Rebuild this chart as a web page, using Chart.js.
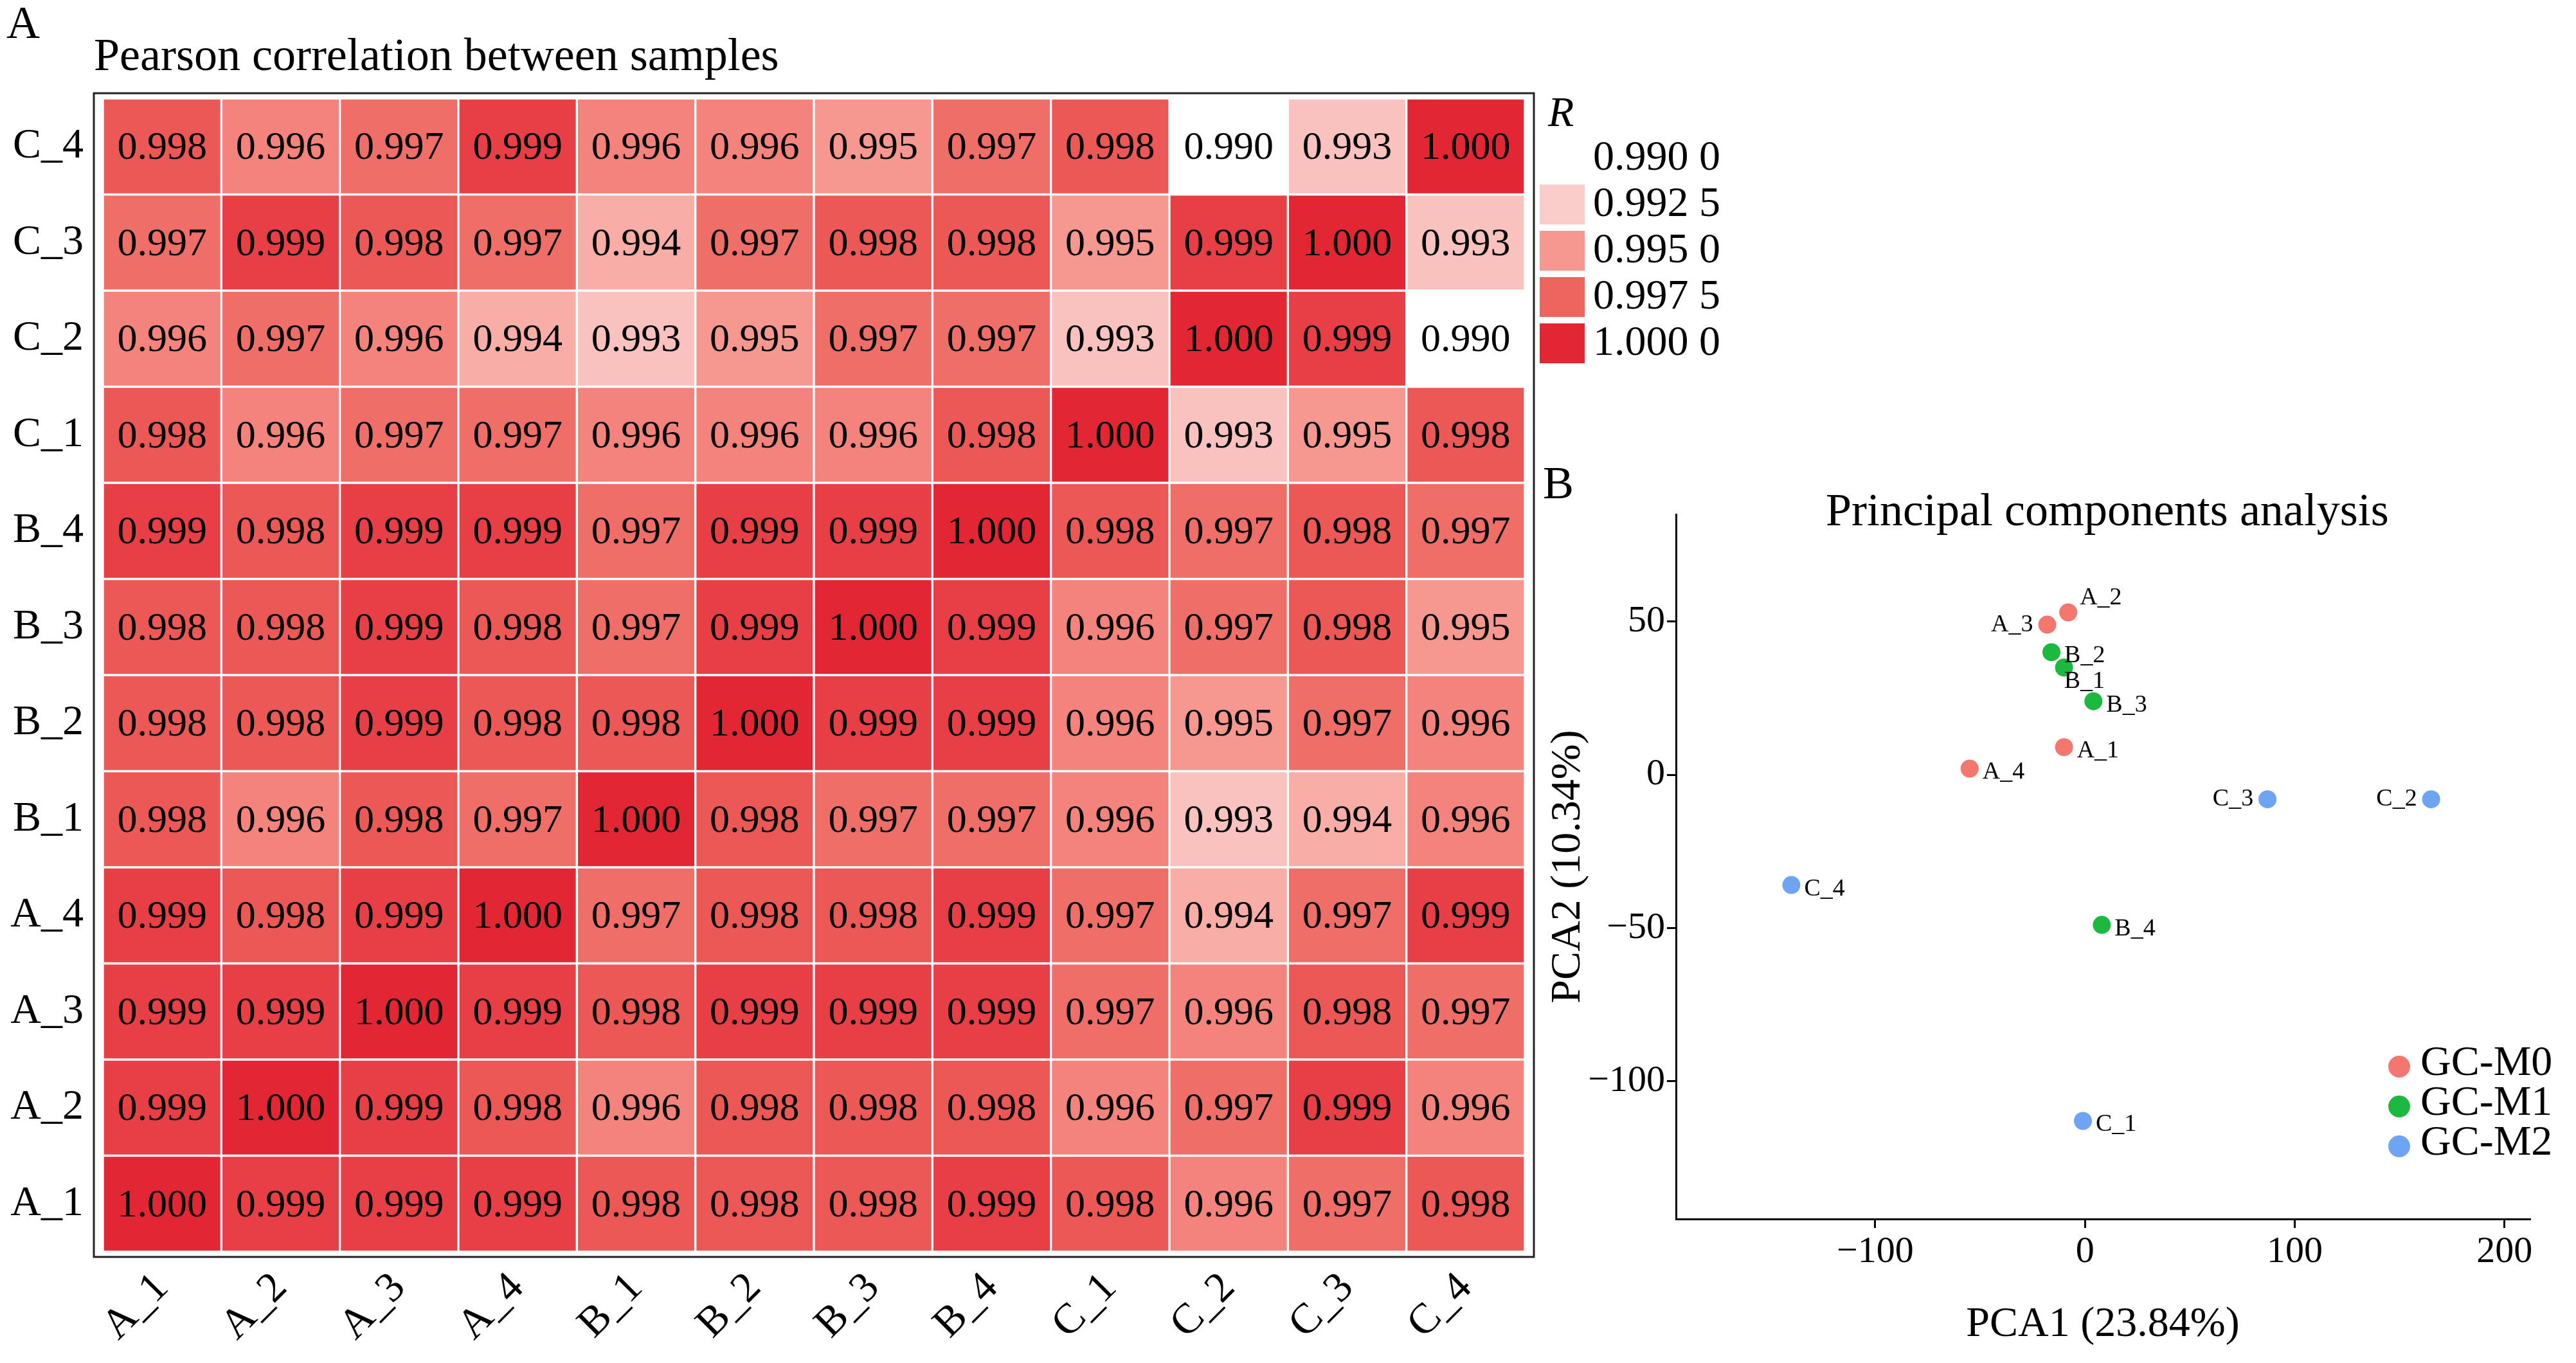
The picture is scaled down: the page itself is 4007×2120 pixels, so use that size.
<!DOCTYPE html>
<html>
<head>
<meta charset="utf-8">
<script src="https://cdn.jsdelivr.net/npm/chart.js@4"></script>
<style>
  body { margin: 0; width: 4007px; height: 2120px; background: #fff; position: relative; font-family: "Liberation Serif", serif; overflow: hidden; }
  .abs { position: absolute; }
  .lbl { font-size: 72px; }
  .legbox { position: absolute; width: 70px; height: 62px; }
  .legtxt { position: absolute; font-size: 66px; }
</style>
</head>
<body>
<div class="abs lbl" style="left:10px;top:-6px;">A</div>
<div class="abs lbl" style="left:146px;top:44px;">Pearson correlation between samples</div>
<div class="abs lbl" style="left:2400px;top:710px;">B</div>
<div class="abs lbl" style="left:2840px;top:752px;">Principal components analysis</div>
<div id="rleg"></div>
<div id="pleg"></div>
<canvas id="heat" class="abs" width="2400" height="2120" style="left:0;top:0;width:2400px;height:2120px;"></canvas>
<canvas id="pca" class="abs" width="1607" height="1370" style="left:2400px;top:750px;width:1607px;height:1370px;"></canvas>
<script>
// Sample names
const samples = ['A_1', 'A_2', 'A_3', 'A_4', 'B_1', 'B_2', 'B_3', 'B_4', 'C_1', 'C_2', 'C_3', 'C_4'];

// Correlation rows, bottom (A_1) to top (C_4), columns A_1..C_4
const rowA1 = [1.000, 0.999, 0.999, 0.999, 0.998, 0.998, 0.998, 0.999, 0.998, 0.996, 0.997, 0.998];
const rowA2 = [0.999, 1.000, 0.999, 0.998, 0.996, 0.998, 0.998, 0.998, 0.996, 0.997, 0.999, 0.996];
const rowA3 = [0.999, 0.999, 1.000, 0.999, 0.998, 0.999, 0.999, 0.999, 0.997, 0.996, 0.998, 0.997];
const rowA4 = [0.999, 0.998, 0.999, 1.000, 0.997, 0.998, 0.998, 0.999, 0.997, 0.994, 0.997, 0.999];
const rowB1 = [0.998, 0.996, 0.998, 0.997, 1.000, 0.998, 0.997, 0.997, 0.996, 0.993, 0.994, 0.996];
const rowB2 = [0.998, 0.998, 0.999, 0.998, 0.998, 1.000, 0.999, 0.999, 0.996, 0.995, 0.997, 0.996];
const rowB3 = [0.998, 0.998, 0.999, 0.998, 0.997, 0.999, 1.000, 0.999, 0.996, 0.997, 0.998, 0.995];
const rowB4 = [0.999, 0.998, 0.999, 0.999, 0.997, 0.999, 0.999, 1.000, 0.998, 0.997, 0.998, 0.997];
const rowC1 = [0.998, 0.996, 0.997, 0.997, 0.996, 0.996, 0.996, 0.998, 1.000, 0.993, 0.995, 0.998];
const rowC2 = [0.996, 0.997, 0.996, 0.994, 0.993, 0.995, 0.997, 0.997, 0.993, 1.000, 0.999, 0.990];
const rowC3 = [0.997, 0.999, 0.998, 0.997, 0.994, 0.997, 0.998, 0.998, 0.995, 0.999, 1.000, 0.993];
const rowC4 = [0.998, 0.996, 0.997, 0.999, 0.996, 0.996, 0.995, 0.997, 0.998, 0.990, 0.993, 1.000];
const rows = [rowA1, rowA2, rowA3, rowA4, rowB1, rowB2, rowB3, rowB4, rowC1, rowC2, rowC3, rowC4];

// Colour scale stops
const scaleTicks = [0.990, 0.9925, 0.995, 0.9975, 1.000];
const scaleLabels = ['0.990 0', '0.992 5', '0.995 0', '0.997 5', '1.000 0'];
const scaleColors = [[255, 255, 255], [250, 205, 203], [246, 152, 143], [238, 100, 94], [227, 38, 52]];

// PCA points
const m0Names = ['A_1', 'A_2', 'A_3', 'A_4'];
const m0X = [-10, -8, -18, -55];
const m0Y = [9, 53, 49, 2];
const m1Names = ['B_1', 'B_2', 'B_3', 'B_4'];
const m1X = [-10, -16, 4, 8];
const m1Y = [35, 40, 24, -49];
const m2Names = ['C_1', 'C_2', 'C_3', 'C_4'];
const m2X = [-1, 165, 87, -140];
const m2Y = [-113, -8, -8, -36];
const groups = ['GC-M0', 'GC-M1', 'GC-M2'];
const groupColors = ['#F4776F', '#1DB840', '#6FA4F2'];

function colorFor(v) {
  for (let i = 0; i < scaleTicks.length - 1; i++) {
    if (v <= scaleTicks[i + 1] + 1e-9) {
      const t = Math.max(0, (v - scaleTicks[i]) / (scaleTicks[i + 1] - scaleTicks[i]));
      const a = scaleColors[i], b = scaleColors[i + 1];
      return `rgb(${a.map((c, k) => Math.round(c + (b[k] - c) * t)).join(',')})`;
    }
  }
  return 'rgb(227,38,52)';
}

// Colour legend (HTML)
const rleg = document.getElementById('rleg');
rleg.innerHTML = '<div class="abs" style="left:2408px;top:136px;font-size:66px;font-style:italic;">R</div>';
scaleLabels.forEach((l, i) => {
  rleg.innerHTML += `<div class="legbox" style="left:2395px;top:${215 + i * 72}px;background:${colorFor(scaleTicks[i])}"></div>` +
    `<div class="legtxt" style="left:2478px;top:${204 + i * 72}px;">${l}</div>`;
});
const pleg = document.getElementById('pleg');
groups.forEach((g, i) => {
  pleg.innerHTML += `<div class="abs" style="left:3715px;top:${1642 + i * 62}px;width:34px;height:34px;border-radius:50%;background:${groupColors[i]}"></div>` +
    `<div class="legtxt" style="left:3765px;top:${1612 + i * 62}px;">${g}</div>`;
});

const cellText = {
  id: 'cellText',
  afterDatasetsDraw(chart) {
    const ctx = chart.ctx;
    ctx.save();
    ctx.font = '62px "Liberation Serif"';
    ctx.fillStyle = '#000';
    ctx.textAlign = 'center';
    ctx.textBaseline = 'middle';
    chart.data.datasets.forEach((ds, r) => {
      chart.getDatasetMeta(r).data.forEach((bar, c) => {
        const mid = (bar.y + bar.base) / 2;
        ctx.fillText(rows[r][c].toFixed(3), bar.x, mid + 3);
      });
    });
    const a = chart.chartArea;
    ctx.strokeStyle = '#222';
    ctx.lineWidth = 3;
    ctx.strokeRect(a.left - 14, a.top - 8, a.right - a.left + 28, a.bottom - a.top + 16);
    ctx.restore();
  }
};

new Chart(document.getElementById('heat'), {
  type: 'bar',
  data: {
    labels: samples,
    datasets: rows.map((r, i) => ({
      label: samples[i],
      data: r.map(() => 1),
      backgroundColor: r.map(colorFor),
      borderColor: '#fff',
      borderWidth: 2,
      borderSkipped: false,
      barPercentage: 1,
      categoryPercentage: 1
    }))
  },
  options: {
    responsive: false,
    animation: false,
    devicePixelRatio: 1,
    layout: { padding: { top: 153, right: 28 } },
    plugins: { legend: { display: false }, tooltip: { enabled: false } },
    scales: {
      x: {
        stacked: true,
        grid: { display: false },
        border: { display: false },
        ticks: { color: '#000', font: { family: 'Liberation Serif', size: 66 }, maxRotation: 45, minRotation: 45, padding: 10 },
        afterFit(s) { s.height = 173; }
      },
      y: {
        stacked: true, min: 0, max: 12,
        grid: { display: false },
        border: { display: false },
        afterBuildTicks(s) { s.ticks = samples.map((n, i) => ({ value: i + 0.5 })); },
        ticks: { color: '#000', font: { family: 'Liberation Serif', size: 66 }, padding: 22,
          callback: v => samples[Math.floor(v)] },
        afterFit(s) { s.width = 160; }
      }
    }
  },
  plugins: [cellText]
});

const pointNames = [m0Names, m1Names, m2Names];
const leftLabels = ['A_3', 'C_2', 'C_3'];
const pointLabels = {
  id: 'pointLabels',
  afterDatasetsDraw(chart) {
    const ctx = chart.ctx;
    ctx.save();
    ctx.font = '38px "Liberation Serif"';
    ctx.fillStyle = '#000';
    ctx.textBaseline = 'middle';
    chart.data.datasets.forEach((ds, d) => {
      chart.getDatasetMeta(d).data.forEach((p, i) => {
        const n = pointNames[d][i];
        if (leftLabels.includes(n)) { ctx.textAlign = 'right'; ctx.fillText(n, p.x - 22, p.y); }
        else if (n === 'B_1') { ctx.textAlign = 'left'; ctx.fillText(n, p.x, p.y + 22); }
        else if (n === 'A_2') { ctx.textAlign = 'left'; ctx.fillText(n, p.x + 18, p.y - 22); }
        else { ctx.textAlign = 'left'; ctx.fillText(n, p.x + 20, p.y + 6); }
      });
    });
    ctx.restore();
  }
};

const axisFont = { family: 'Liberation Serif', size: 58 };
new Chart(document.getElementById('pca'), {
  type: 'scatter',
  data: {
    datasets: [
      { label: groups[0], data: m0X.map((x, i) => ({ x, y: m0Y[i] })), backgroundColor: groupColors[0] },
      { label: groups[1], data: m1X.map((x, i) => ({ x, y: m1Y[i] })), backgroundColor: groupColors[1] },
      { label: groups[2], data: m2X.map((x, i) => ({ x, y: m2Y[i] })), backgroundColor: groupColors[2] }
    ].map(d => Object.assign(d, { pointRadius: 14, borderWidth: 0 }))
  },
  options: {
    responsive: false,
    animation: false,
    devicePixelRatio: 1,
    layout: { padding: { top: 50, right: 72, bottom: 20 } },
    plugins: { legend: { display: false }, tooltip: { enabled: false } },
    scales: {
      x: {
        min: -195, max: 212,
        grid: { display: true, drawOnChartArea: false, drawTicks: true, tickLength: 14, color: '#000', lineWidth: 3 },
        border: { display: true, color: '#000', width: 3 },
        afterBuildTicks(s) { s.ticks = [-100, 0, 100, 200].map(v => ({ value: v })); },
        ticks: { color: '#000', font: axisFont, callback: v => String(v).replace('-', '\u2212') },
        title: { display: true, text: 'PCA1 (23.84%)', color: '#000', font: { family: 'Liberation Serif', size: 66 }, padding: 0 },
        afterFit(s) { s.height = 204; }
      },
      y: {
        min: -145, max: 85,
        grid: { display: true, drawOnChartArea: false, drawTicks: true, tickLength: 14, color: '#000', lineWidth: 3 },
        border: { display: true, color: '#000', width: 3 },
        afterBuildTicks(s) { s.ticks = [-100, -50, 0, 50].map(v => ({ value: v })); },
        ticks: { color: '#000', font: axisFont, callback: v => String(v).replace('-', '\u2212') },
        title: { display: true, text: 'PCA2 (10.34%)', color: '#000', font: { family: 'Liberation Serif', size: 66 }, padding: 0 },
        afterFit(s) { s.width = 207; }
      }
    }
  },
  plugins: [pointLabels]
});
</script>
</body>
</html>
